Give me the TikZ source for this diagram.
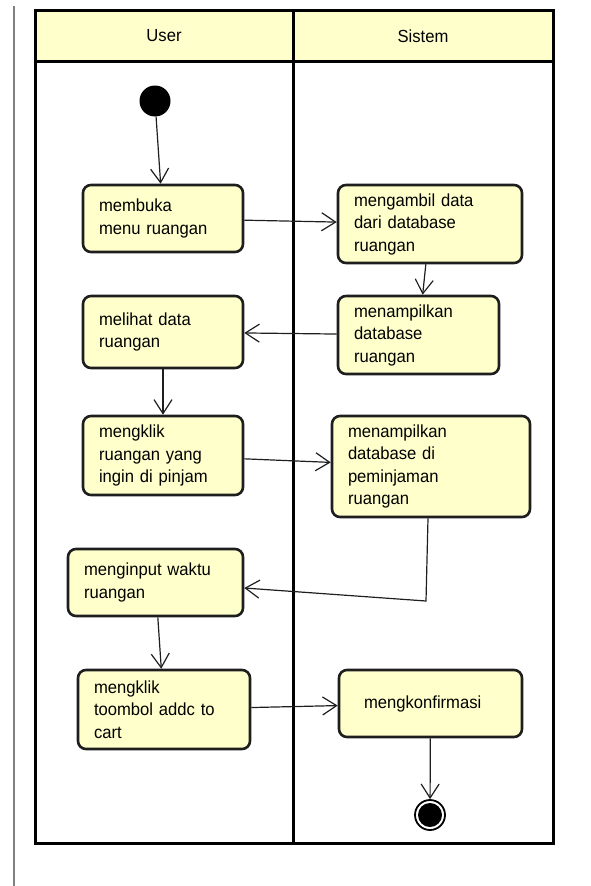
\documentclass[tikz,border=0pt]{standalone}
\usepackage{fontspec}
\setmainfont{Liberation Sans}[FakeStretch=0.95]
\usetikzlibrary{arrows.meta}
\definecolor{kuning}{RGB}{255,255,204}
\definecolor{garis}{RGB}{30,30,30}

\begin{document}
\begin{tikzpicture}[x=1pt,y=-1pt,
        aktivitas/.style={draw=garis, line width=2.6pt, rounded corners=8pt, fill=kuning,
            inner xsep=16pt, inner ysep=0pt, align=left, font=\fontsize{17.5}{22.5}\selectfont},
        panah/.style={draw=garis, line width=1.2pt, -{Straight Barb[length=14pt,width=18pt]}},
        judul/.style={font=\fontsize{17.5}{22.5}\selectfont}]
        \useasboundingbox (0,0) rectangle (590,886);
        \draw[gray, line width=1.5pt] (14,6) -- (14,886);
        \fill[kuning] (35,10) rectangle (553,61);
        \draw[line width=3pt] (35,10) rectangle (553,843);
        \draw[line width=3pt] (35,61) -- (553,61);
        \draw[line width=3pt] (293,10) -- (293,843);
        \node[judul] (user) at (164,36) {User};
        \node[judul] (sistem) at (423,36) {Sistem};
        \node[circle, fill=black, minimum size=31pt, inner sep=0pt] (mulai) at (155,101) {};
        \node[aktivitas, minimum width=160pt, minimum height=67pt, text width=128pt] (membuka) at (163,218.5) {membuka\\menu ruangan};
        \node[aktivitas, minimum width=184pt, minimum height=78pt, text width=152pt] (mengambil) at (430,224) {mengambil data\\dari database\\ruangan};
        \node[aktivitas, minimum width=161pt, minimum height=78pt, text width=129pt] (menampilkan) at (418.5,335) {menampilkan\\database\\ruangan};
        \node[aktivitas, minimum width=160pt, minimum height=72pt, text width=128pt] (melihat) at (163,332) {melihat data\\ruangan};
        \node[aktivitas, minimum width=160pt, minimum height=79pt, text width=128pt] (pilih) at (163,455.5) {mengklik\\ruangan yang\\ingin di pinjam};
        \node[aktivitas, minimum width=198pt, minimum height=101pt, text width=166pt] (peminjaman) at (431,466.5) {menampilkan\\database di\\peminjaman\\ruangan};
        \node[aktivitas, minimum width=175pt, minimum height=67pt, text width=143pt] (menginput) at (155.5,582.5) {menginput waktu\\ruangan};
        \node[aktivitas, minimum width=172pt, minimum height=79pt, text width=140pt] (cart) at (164,709.5) {mengklik\\toombol addc to\\cart};
        \node[aktivitas, minimum width=183pt, minimum height=67pt, inner xsep=25pt, text width=133pt] (konfirmasi) at (430.5,703.5) {mengkonfirmasi};
        \node[circle, draw=black, line width=1.8pt, minimum size=30pt, inner sep=0pt] (selesai) at (430,815) {};
        \fill[black] (selesai.center) circle (12pt);
        \coordinate (belok) at (426,601);
        \draw[panah] (mulai) -- (membuka);
        \draw[panah] (membuka) -- (mengambil);
        \draw[panah] (mengambil) -- (menampilkan);
        \draw[panah] (menampilkan) -- (melihat);
        \draw[panah] (melihat) -- (pilih);
        \draw[panah] (pilih) -- (peminjaman);
        \draw[panah] ([xshift=-3pt]peminjaman.south) -- (belok) -- ([yshift=-5.5pt]menginput.east);
        \draw[panah] (menginput) -- (cart);
        \draw[panah] (cart) -- (konfirmasi);
        \draw[panah] (konfirmasi) -- (selesai);
\end{tikzpicture}
\end{document}
